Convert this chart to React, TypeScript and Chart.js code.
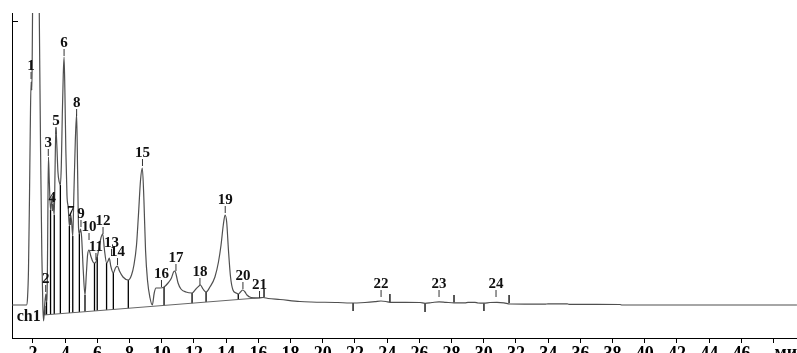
import React, { useEffect, useRef } from 'react';
import { Chart, registerables } from 'chart.js';

Chart.register(...registerables);

// Chromatogram trace (time in min, signal in arbitrary units)
const traceTime = [0.70,1.60,1.66,1.72,1.78,1.83,1.88,1.93,1.96,2.00,2.17,2.35,2.39,2.47,2.55,2.61,2.66,2.72,2.80,2.84,2.89,2.93,2.96,3.01,3.09,3.15,3.20,3.26,3.32,3.37,3.42,3.48,3.55,3.63,3.70,3.76,3.82,3.88,3.93,3.98,4.04,4.11,4.19,4.26,4.33,4.40,4.47,4.53,4.63,4.71,4.77,4.83,4.88,4.95,5.02,5.12,5.23,5.31,5.39,5.48,5.59,5.73,5.82,5.91,5.99,6.10,6.22,6.33,6.44,6.57,6.66,6.74,6.83,6.99,7.12,7.24,7.37,7.59,7.92,8.12,8.27,8.43,8.55,8.68,8.79,8.89,8.99,9.11,9.27,9.41,9.53,9.64,9.89,10.14,10.39,10.60,10.73,10.82,10.91,11.01,11.19,11.50,11.88,12.12,12.31,12.40,12.56,12.75,12.99,13.30,13.52,13.68,13.82,13.93,14.03,14.14,14.27,14.42,14.61,14.75,14.89,15.03,15.17,15.29,15.54,15.98,16.29,16.60,17.34,18.58,19.27,20.94,21.69,22.62,23.24,23.61,23.93,24.17,26.04,26.35,26.78,27.22,27.65,28.15,28.83,29.02,29.45,29.64,30.01,30.38,30.82,31.25,31.63,33.80,33.99,35.17,35.29,38.46,38.58,49.45];
const traceSignal = [33,33,40,68,138,208,256,248,298,388,938,388,325,188,83,33,17,32,44,36,58,138,181,158,128,135,142,133,123,168,210,193,166,156,153,173,223,263,281,248,188,143,130,112,124,116,102,138,198,224,168,110,104,109,101,68,43,63,83,88,82,76,75,76,81,90,100,104,88,75,77,80,72,65,70,72,67,61,58,63,73,93,123,158,170,138,88,58,40,33,45,50,50,51,55,60,66,67,62,55,49,46,45,49,52,53,49,46,51,61,76,93,113,123,116,88,61,48,45,44,46,48,46,43,40.5,40,40.5,39.5,38.5,36.5,36,35.5,35,35.5,36.3,37,36.5,35.7,35.5,34.7,35.5,36.2,35.7,35.2,35.2,35.7,35.7,35,34.8,35.5,35.7,35.2,34,33.8,34.2,34.2,33.7,33.5,33,33];

// Integration baseline
const baselineTime = [2.65, 16.32];
const baselineSignal = [23, 40.5];

// Drop lines (peak separators)
const dropTime = [2.73,2.84,3.09,3.32,3.70,4.26,4.47,4.88,5.23,5.82,5.99,6.57,6.99,7.92,10.14,11.88,12.75,14.75];
const dropTop = [32,36,128,123,153,112,102,104,43,75,81,75,65,58,51,45,46,44];
const dropBottom = [23.1,23.2,23.6,23.9,24.3,25.1,25.3,25.9,26.3,27.1,27.3,28.0,28.6,29.7,32.6,34.8,35.9,38.5];

// Small start / end marks
const upTickTime = [16.35, 24.17, 28.15, 31.57];
const upTickBottom = [40.5, 36, 35.5, 35];
const upTickTop = [49, 44, 43, 43];
const downTickTime = [21.88, 26.35, 30.01];
const downTickTop = [35, 34.7, 34.8];
const downTickBottom = [27, 26, 27];

// Peak labels
const peakLabels = ['1','2','3','4','5','6','7','8','9','10','11','12','13','14','15','16','17','18','19','20','21','22','23','24'];
const peakTime = [1.88,2.79,2.95,3.20,3.43,3.93,4.34,4.71,4.98,5.48,5.91,6.35,6.88,7.25,8.80,9.98,10.88,12.37,13.94,15.04,16.07,23.62,27.22,30.76];
const peakMark = [259,46,182,127,204,282,113,222,111,98,78,104,82,73,172,51,67,53,125,49,40,41,41,41];

// Axes
const xTickValues = [2,4,6,8,10,12,14,16,18,20,22,24,26,28,30,32,34,36,38,40,42,44,46,48];
const xTickLabels = ['2','4','6','8','10','12','14','16','18','20','22','24','26','28','30','32','34','36','38','40','42','44','46',''];
const xUnitLabel = 'мин';
const yTickValues = [317];
const channelLabel = 'ch1';
const channelTime = 0.99;
const channelSignal = 17;

const X_MIN = 0.696;
const X_MAX = 49.454;
const Y_MIN = 0;
const Y_MAX = 325;

function segments(xs: number[], a: number[], b: number[]) {
  const out: any[] = [];
  xs.forEach((x, i) => {
    out.push({ x, y: a[i] });
    out.push({ x, y: b[i] });
    out.push({ x, y: null });
  });
  return out;
}

const annotate = {
  id: 'annotate',
  afterDraw(chart: any) {
    const { ctx, scales, chartArea } = chart;
    const x = scales.x;
    const y = scales.y;
    ctx.save();
    ctx.strokeStyle = '#000';
    ctx.lineWidth = 1;
    yTickValues.forEach((v) => {
      const py = Math.round(y.getPixelForValue(v)) + 0.5;
      ctx.beginPath();
      ctx.moveTo(chartArea.left, py);
      ctx.lineTo(chartArea.left + 6, py);
      ctx.stroke();
    });
    ctx.font = 'bold 15px "Liberation Serif"';
    ctx.fillStyle = '#111';
    ctx.textAlign = 'center';
    ctx.textBaseline = 'alphabetic';
    ctx.strokeStyle = '#333';
    peakLabels.forEach((lab, i) => {
      const px = x.getPixelForValue(peakTime[i]);
      const py = y.getPixelForValue(peakMark[i]);
      ctx.beginPath();
      ctx.moveTo(px, py);
      ctx.lineTo(px, py - 7);
      ctx.stroke();
      ctx.fillText(lab, px, py - 9);
    });
    ctx.textAlign = 'left';
    ctx.font = 'bold 16px "Liberation Serif"';
    ctx.fillText(channelLabel, x.getPixelForValue(channelTime), y.getPixelForValue(channelSignal));
    ctx.font = 'bold 18px "Liberation Serif"';
    ctx.textBaseline = 'top';
    ctx.fillStyle = '#000';
    ctx.fillText(xUnitLabel, x.getPixelForValue(48) + 1, chartArea.bottom + 6);
    ctx.restore();
  },
};

export default function App() {
  const ref = useRef<HTMLCanvasElement | null>(null);
  useEffect(() => {
    document.body.style.margin = '0';
    const canvas = ref.current;
    if (!canvas) return;
    const chart = new Chart(canvas, {
      type: 'line',
      data: {
        datasets: [
          {
            label: 'trace',
            data: traceTime.map((t, i) => ({ x: t, y: traceSignal[i] })),
            borderColor: '#4f4f4f',
            borderWidth: 1.2,
            pointRadius: 0,
            cubicInterpolationMode: 'monotone',
          },
          {
            label: 'baseline',
            data: baselineTime.map((t, i) => ({ x: t, y: baselineSignal[i] })),
            borderColor: '#666',
            borderWidth: 1,
            pointRadius: 0,
          },
          {
            label: 'drops',
            data: segments(dropTime, dropBottom, dropTop),
            borderColor: '#000',
            borderWidth: 1.3,
            pointRadius: 0,
            spanGaps: false,
          },
          {
            label: 'ticks',
            data: [
              ...segments(upTickTime, upTickBottom, upTickTop),
              ...segments(downTickTime, downTickTop, downTickBottom),
            ],
            borderColor: '#000',
            borderWidth: 1.3,
            pointRadius: 0,
            spanGaps: false,
            parsing: false,
          } as any,
        ],
      },
      options: {
        responsive: false,
        animation: false,
        devicePixelRatio: 1,
        layout: { padding: { top: 13, left: 0, right: 0, bottom: 0 } },
        plugins: { legend: { display: false }, tooltip: { enabled: false } },
        scales: {
          x: {
            type: 'linear',
            min: X_MIN,
            max: X_MAX,
            afterBuildTicks: (scale: any) => {
              scale.ticks = xTickValues.map((value) => ({ value }));
            },
            afterFit: (scale: any) => {
              scale.height = 15;
            },
            grid: { display: true, drawOnChartArea: false, drawTicks: true, tickLength: 5, color: '#000', tickColor: '#000' },
            border: { display: true, color: '#000', width: 1 },
            ticks: {
              autoSkip: false,
              maxRotation: 0,
              padding: 1,
              color: '#000',
              font: { family: 'Liberation Serif', size: 18, weight: 'bold' },
              callback: (_v: any, index: number) => xTickLabels[index],
            },
          },
          y: {
            type: 'linear',
            min: Y_MIN,
            max: Y_MAX,
            afterFit: (scale: any) => {
              scale.width = 12;
            },
            grid: { display: false },
            border: { display: true, color: '#000', width: 1 },
            ticks: { display: false },
          },
        },
      },
      plugins: [annotate],
    } as any);
    return () => chart.destroy();
  }, []);
  return (
    <div style={{ width: 797, height: 353, background: '#fff' }}>
      <canvas ref={ref} width={797} height={353} style={{ display: 'block' }} />
    </div>
  );
}
